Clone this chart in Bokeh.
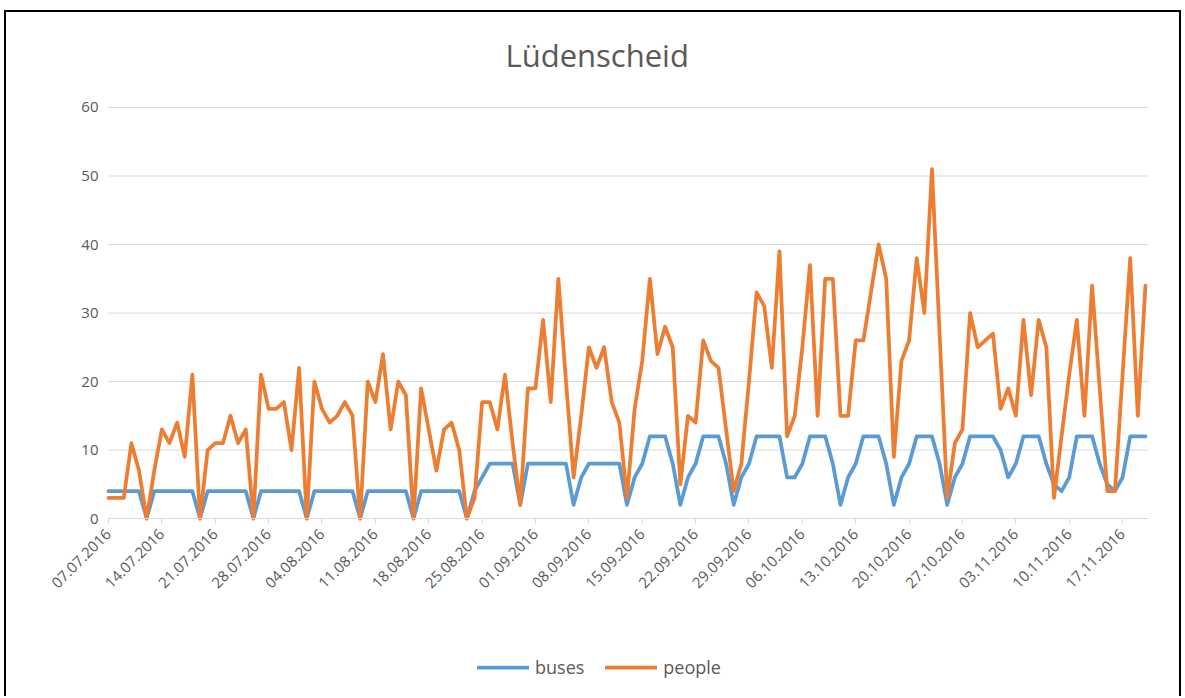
import math
from bokeh.plotting import figure
from bokeh.models import FixedTicker, Legend, LegendItem, Range1d, ColumnDataSource
from bokeh.embed import file_html
from bokeh.resources import INLINE

# ---- data -------------------------------------------------------------
tick_days = list(range(0, 137, 7))
tick_labels = ["07.07.2016", "14.07.2016", "21.07.2016", "28.07.2016", "04.08.2016",
               "11.08.2016", "18.08.2016", "25.08.2016", "01.09.2016", "08.09.2016",
               "15.09.2016", "22.09.2016", "29.09.2016", "06.10.2016", "13.10.2016",
               "20.10.2016", "27.10.2016", "03.11.2016", "10.11.2016", "17.11.2016"]
y_ticks = [0, 10, 20, 30, 40, 50, 60]

buses = [4, 4, 4, 4, 4, 0, 4,
         4, 4, 4, 4, 4, 0, 4,
         4, 4, 4, 4, 4, 0, 4,
         4, 4, 4, 4, 4, 0, 4,
         4, 4, 4, 4, 4, 0, 4,
         4, 4, 4, 4, 4, 0, 4,
         4, 4, 4, 4, 4, 0, 4,
         6, 8, 8, 8, 8, 2, 8,
         8, 8, 8, 8, 8, 2, 6,
         8, 8, 8, 8, 8, 2, 6,
         8, 12, 12, 12, 8, 2, 6,
         8, 12, 12, 12, 8, 2, 6,
         8, 12, 12, 12, 12, 6, 6,
         8, 12, 12, 12, 8, 2, 6,
         8, 12, 12, 12, 8, 2, 6,
         8, 12, 12, 12, 8, 2, 6,
         8, 12, 12, 12, 12, 10, 6,
         8, 12, 12, 12, 8, 5, 4,
         6, 12, 12, 12, 8, 5, 4,
         6, 12, 12, 12]

people = [3, 3, 3, 11, 7, 0, 7,
          13, 11, 14, 9, 21, 0, 10,
          11, 11, 15, 11, 13, 0, 21,
          16, 16, 17, 10, 22, 0, 20,
          16, 14, 15, 17, 15, 0, 20,
          17, 24, 13, 20, 18, 0, 19,
          13, 7, 13, 14, 10, 0, 3,
          17, 17, 13, 21, 11, 2, 19,
          19, 29, 17, 35, 20, 6, 15,
          25, 22, 25, 17, 14, 3, 16,
          23, 35, 24, 28, 25, 5, 15,
          14, 26, 23, 22, 13, 4, 8,
          20, 33, 31, 22, 39, 12, 15,
          25, 37, 15, 35, 35, 15, 15,
          26, 26, 33, 40, 35, 9, 23,
          26, 38, 30, 51, 27, 3, 11,
          13, 30, 25, 26, 27, 16, 19,
          15, 29, 18, 29, 25, 3, 12,
          21, 29, 15, 34, 19, 4, 4,
          21, 38, 15, 34]

day = list(range(len(people)))

# ---- styling ----------------------------------------------------------
BLUE = "#5B9BD5"
ORANGE = "#ED7D31"
GRID = "#D9D9D9"
TEXT = "#595959"
FONT = "Open Sans"
X_END = 136.4

src = ColumnDataSource(dict(day=day, buses=buses, people=people))
grid_src = ColumnDataSource(dict(x0=[0] * len(y_ticks), x1=[X_END] * len(y_ticks),
                                 y=y_ticks))

# the frame reaches down to the legend, left past the first date label and a bit
# above 60; the value area (days 0..136, values 0..60) sits in its upper right part
p = figure(frame_width=1108, frame_height=595,
           min_border_left=40, min_border_right=34,
           min_border_top=95, min_border_bottom=6,
           x_range=Range1d(-8.92, X_END), y_range=Range1d(-25.1, 61.75),
           output_backend="svg", toolbar_location=None)
# black chart-area frame (top, left and right edges) drawn behind the transparent canvas
line_img = "linear-gradient(#000, #000)"
p.styles = {
    "background": (f"{line_img} 4px 10px / 1177px 2px no-repeat, "
                   f"{line_img} 4px 10px / 2px 700px no-repeat, "
                   f"{line_img} 1179px 10px / 2px 700px no-repeat, white"),
}
p.border_fill_alpha = 0
p.background_fill_color = "white"
p.outline_line_color = None

# horizontal gridlines spanning only the value area
p.segment(x0="x0", y0="y", x1="x1", y1="y", source=grid_src,
          line_color=GRID, line_width=1)

r_bus = p.line("day", "buses", source=src, line_color=BLUE, line_width=3.75,
               line_join="round", line_cap="round")
r_ppl = p.line("day", "people", source=src, line_color=ORANGE, line_width=3.75,
               line_join="round", line_cap="round")

# title
p.title.text = "Lüdenscheid"
p.title.align = "left"
p.title.offset = 465
p.title.text_font = FONT
p.title.text_font_size = "31px"
p.title.text_font_style = "normal"
p.title.text_color = TEXT
p.title.standoff = 39

# built-in grids off (drawn above as segments)
p.xgrid.grid_line_color = None
p.ygrid.grid_line_color = None

# y axis, pinned at day 0
p.yaxis.fixed_location = 0
p.yaxis.ticker = FixedTicker(ticks=y_ticks)
p.yaxis.axis_line_color = None
p.yaxis.major_tick_line_color = None
p.yaxis.minor_tick_line_color = None
p.yaxis.major_tick_out = 0
p.yaxis.major_tick_in = 0
p.yaxis.major_label_standoff = 10
p.yaxis.major_label_text_font = FONT
p.yaxis.major_label_text_font_size = "15px"
p.yaxis.major_label_text_color = TEXT

# x axis, pinned at value 0
p.xaxis.fixed_location = 0
p.xaxis.bounds = (0, X_END)
p.xaxis.ticker = FixedTicker(ticks=tick_days)
p.xaxis.major_label_overrides = {d: lab for d, lab in zip(tick_days, tick_labels)}
p.xaxis.major_label_orientation = math.pi / 4
p.xaxis.axis_line_color = GRID
p.xaxis.axis_line_width = 1
p.xaxis.major_tick_line_color = GRID
p.xaxis.major_tick_out = 5
p.xaxis.major_tick_in = 0
p.xaxis.minor_tick_line_color = None
p.xaxis.major_label_standoff = 8
p.xaxis.major_label_text_font = FONT
p.xaxis.major_label_text_font_size = "15px"
p.xaxis.major_label_text_color = TEXT

# legend (inside the lower part of the frame)
legend = Legend(items=[LegendItem(label="buses", renderers=[r_bus]),
                       LegendItem(label="people", renderers=[r_ppl])],
                orientation="horizontal", location=(437, 11),
                glyph_width=52, glyph_height=20, label_standoff=6, spacing=21,
                padding=0, margin=0, border_line_color=None,
                background_fill_alpha=0,
                label_text_font=FONT, label_text_font_size="18px",
                label_text_color=TEXT)
p.add_layout(legend, "center")

open("out.html", "w").write(file_html(p, INLINE))
